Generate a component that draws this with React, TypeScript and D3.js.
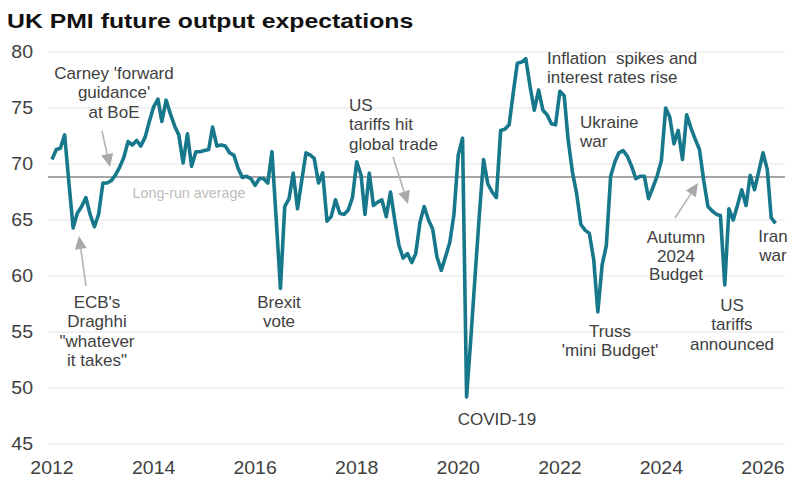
import React from "react";
import * as d3 from "d3";

// ---- data ----
const startYear = 2012;
const startMonth = 0; // January
const pmiValues: number[] = [
  70.4, 71.3, 71.4, 72.6, 68.4, 64.3, 65.6, 66.2, 67.0, 65.5, 64.4, 65.5,
  68.3, 68.3, 68.5, 69.0, 69.7, 70.6, 72.0, 71.7, 72.1, 71.6, 72.4, 73.8,
  75.1, 75.8, 73.8, 75.7, 74.5, 73.4, 72.6, 70.1, 72.7, 69.8, 71.1, 71.1,
  71.2, 71.3, 73.3, 71.6, 71.7, 71.6, 71.0, 70.8, 69.6, 68.8, 68.9, 68.7,
  68.1, 68.7, 68.7, 68.3, 71.1, 65.0, 58.9, 66.2, 66.9, 69.2, 66.0, 68.5,
  71.0, 70.8, 70.5, 68.3, 69.2, 64.9, 65.3, 66.8, 65.6, 65.5, 65.9, 67.0,
  70.2, 69.0, 65.5, 69.2, 66.3, 66.6, 66.8, 65.3, 67.5, 65.0, 62.7, 61.6,
  62.0, 61.2, 62.0, 64.8, 66.2, 65.0, 64.2, 61.7, 60.5, 61.7, 63.0, 65.5,
  70.8, 72.3, 49.2, 54.5, 60.0, 65.5, 70.4, 68.2, 67.5, 67.0, 73.0, 73.1,
  73.5, 76.5, 79.0, 79.1, 79.4, 76.9, 74.8, 76.6, 74.8, 74.4, 73.6, 73.5,
  76.5, 76.1, 72.2, 69.3, 67.4, 64.6, 64.1, 63.8, 61.5, 56.8, 61.0, 62.7,
  68.9, 70.2, 71.0, 71.2, 70.7, 69.8, 68.7, 68.9, 68.9, 66.9, 67.9, 68.9,
  70.3, 75.0, 74.2, 71.8, 73.0, 70.4, 74.4, 73.2, 72.2, 71.3, 68.5, 66.2,
  65.8, 65.5, 65.4, 59.2, 66.0, 65.0, 66.3, 67.7, 66.3, 69.0, 67.7, 69.3,
  71.0, 69.5, 65.2, 64.7,
];
const longRunAverage = 68.85;
const yTicks = [45, 50, 55, 60, 65, 70, 75, 80];
const xTickYears = [2012, 2014, 2016, 2018, 2020, 2022, 2024, 2026];
const titleText = "UK PMI future output expectations";

type Note = { lines: string[]; x: number; y: number; anchor: "start" | "middle" | "end"; lh?: number };
const notes: Note[] = [
  { lines: ["Carney 'forward", "guidance'", "at BoE"], x: 114, y: 79, anchor: "middle" },
  { lines: ["ECB's", "Draghhi", "\"whatever", "it takes\""], x: 97, y: 308, anchor: "middle" },
  { lines: ["Brexit", "vote"], x: 279, y: 308, anchor: "middle" },
  { lines: ["US", "tariffs hit", "global trade"], x: 349, y: 111, anchor: "start" },
  { lines: ["COVID-19"], x: 497, y: 425, anchor: "middle" },
  { lines: ["Inflation  spikes and", "interest rates rise"], x: 547, y: 64, anchor: "start", lh: 18.5 },
  { lines: ["Ukraine", "war"], x: 580, y: 128, anchor: "start", lh: 18.5 },
  { lines: ["Truss", "'mini Budget'"], x: 610, y: 337, anchor: "middle", lh: 18.5 },
  { lines: ["Autumn", "2024", "Budget"], x: 676, y: 243, anchor: "middle", lh: 18.5 },
  { lines: ["US", "tariffs", "announced"], x: 732, y: 311, anchor: "middle" },
  { lines: ["Iran", "war"], x: 773, y: 242, anchor: "middle", lh: 18.5 },
];

const arrows = [
  { x1: 102, y1: 131, x2: 110, y2: 167 },
  { x1: 86, y1: 286, x2: 79, y2: 236 },
  { x1: 393, y1: 157, x2: 408, y2: 204 },
  { x1: 675, y1: 218, x2: 698, y2: 183 },
];

const W = 801;
const H = 489;
const FONT = "'Liberation Sans', Arial, Helvetica, sans-serif";
const LINE_COLOR = "#17788c";

function Arrow({ x1, y1, x2, y2 }: { x1: number; y1: number; x2: number; y2: number }) {
  const dx = x2 - x1;
  const dy = y2 - y1;
  const len = Math.sqrt(dx * dx + dy * dy);
  const ux = dx / len;
  const uy = dy / len;
  const hl = 13;
  const hw = 6;
  const bx = x2 - ux * hl;
  const by = y2 - uy * hl;
  const pts = [
    [x2, y2],
    [bx - uy * hw, by + ux * hw],
    [bx + uy * hw, by - ux * hw],
  ]
    .map((p) => p.join(","))
    .join(" ");
  return (
    <g>
      <line x1={x1} y1={y1} x2={bx} y2={by} stroke="#b3b3b3" strokeWidth={1.6} />
      <polygon points={pts} fill="#a9a9a9" />
    </g>
  );
}

export default function App() {
  const data = pmiValues.map((v, i) => ({
    date: d3.timeMonth.offset(new Date(startYear, startMonth, 1), i),
    value: v,
  }));
  const x = d3
    .scaleTime()
    .domain([new Date(2012, 0, 1), new Date(2026, 0, 1)])
    .range([52, 763]);
  const y = d3.scaleLinear().domain([45, 80]).range([444, 52]);
  const line = d3
    .line<{ date: Date; value: number }>()
    .x((d) => x(d.date))
    .y((d) => y(d.value));
  const gridX0 = 48;
  const gridX1 = 785;

  return (
    <svg
      width={W}
      height={H}
      style={{ position: "absolute", left: 0, top: 0, background: "#fff" }}
      fontFamily={FONT}
    >
      <rect width={W} height={H} fill="#fff" />
      <text
        transform={`translate(7,28) scale(1.24,1)`}
        fontSize={20}
        fontWeight="bold"
        fill="#111"
      >
        {titleText}
      </text>
      {yTicks.map((t) => (
        <g key={t}>
          <line x1={gridX0} x2={gridX1} y1={y(t)} y2={y(t)} stroke="#e3e3e3" strokeWidth={1} />
          <text
            transform={`translate(33,${y(t) + 6.3}) scale(1.115,1)`}
            textAnchor="end"
            fontSize={17.5}
            fill="#404040"
          >
            {t}
          </text>
        </g>
      ))}
      {xTickYears.map((yr) => (
        <text
          key={yr}
          transform={`translate(${x(new Date(yr, 0, 1))},474) scale(1.115,1)`}
          textAnchor="middle"
          fontSize={17.5}
          fill="#404040"
        >
          {yr}
        </text>
      ))}
      <line
        x1={gridX0}
        x2={gridX1}
        y1={y(longRunAverage)}
        y2={y(longRunAverage)}
        stroke="#a6a6a6"
        strokeWidth={2}
      />
      <text x={189} y={198} textAnchor="middle" fontSize={14.3} fill="#bdbdbd">
        Long-run average
      </text>
      <path
        d={line(data) || ""}
        fill="none"
        stroke={LINE_COLOR}
        strokeWidth={3.6}
        strokeLinejoin="round"
        strokeLinecap="butt"
      />
      {arrows.map((a, i) => (
        <Arrow key={i} {...a} />
      ))}
      {notes.map((n, i) => (
        <text key={i} fontSize={17} fill="#404040" textAnchor={n.anchor} style={{ whiteSpace: "pre" }}>
          {n.lines.map((l, j) => (
            <tspan key={j} x={n.x} y={n.y + j * (n.lh ?? 19.3)}>
              {l}
            </tspan>
          ))}
        </text>
      ))}
    </svg>
  );
}
